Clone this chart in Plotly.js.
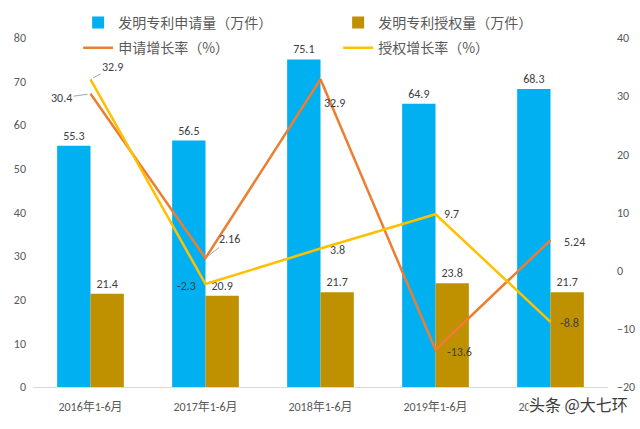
<!DOCTYPE html>
<html><head><meta charset="utf-8">
<script src="https://cdn.plot.ly/plotly-3.0.1.min.js"></script>
<style>html,body{margin:0;padding:0;background:#fff}#c{width:640px;height:429px}</style>
</head><body><div id="c"></div>
<script>
var categories = ['2016年1-6月','2017年1-6月','2018年1-6月','2019年1-6月','2020年1-6月'];
var applications = [55.3, 56.5, 75.1, 64.9, 68.3];
var grants = [21.4, 20.9, 21.7, 23.8, 21.7];
var appGrowth = [30.4, 2.16, 32.9, -13.6, 5.24];
var grantGrowth = [32.9, -2.3, 3.8, 9.7, -8.8];
var leftTicks = [0,10,20,30,40,50,60,70,80];
var rightTicks = [-20,-10,0,10,20,30,40];

var font = 'Calibri, Carlito, "Noto Sans CJK SC", sans-serif';
var cjk = '"Noto Sans CJK SC", sans-serif';
var txtColor = '#404040';

var traces = [
  {type:'bar', name:'发明专利申请量（万件）', x:categories, y:applications, marker:{color:'#00B0F0'},
   text:applications.map(function(v){return v.toFixed(1);}), textposition:'outside', cliponaxis:false,
   textfont:{size:12,color:txtColor}, legend:'legend'},
  {type:'bar', name:'发明专利授权量（万件）', x:categories, y:grants, marker:{color:'#BF9000'},
   text:grants.map(function(v){return v.toFixed(1);}), textposition:'outside', cliponaxis:false,
   textfont:{size:12,color:txtColor}, legend:'legend'},
  {type:'scatter', mode:'lines', name:'申请增长率（%）', x:categories, y:appGrowth, yaxis:'y2',
   line:{color:'#ED7D31', width:2.5}, legend:'legend2'},
  {type:'scatter', mode:'lines', name:'授权增长率（%）', x:categories, y:grantGrowth, yaxis:'y2',
   line:{color:'#FFC000', width:2.5}, legend:'legend2'}
];

// label offsets (px) for line labels: [dx, dy, leader]
var appOff = [[-29,4,true],[24,-19,true],[14,24,false],[24,2,false],[24,2,false]];
var grantOff = [[22,-12,true],[-19,2,false],[17,1,false],[16,0,false],[19,1,false]];
var annotations = [];
function addLabels(vals, offs){
  vals.forEach(function(v,i){
    var o = offs[i];
    var a = {x:categories[i], y:v, xref:'x', yref:'y2', text:String(v),
      font:{size:12,color:txtColor,family:font}};
    if(o[2]){
      a.showarrow = true; a.arrowhead = 0; a.arrowwidth = 1; a.arrowcolor = '#A6A6A6';
      a.ax = o[0]; a.ay = o[1]; a.standoff = 3;
    } else {
      a.showarrow = false; a.xshift = o[0]; a.yshift = -o[1];
    }
    annotations.push(a);
  });
}
addLabels(appGrowth, appOff);
addLabels(grantGrowth, grantOff);
annotations.push({xref:'paper', yref:'paper', x:1.037, y:-0.049, xanchor:'right', yanchor:'middle',
  text:'头条 @大七环', showarrow:false, bgcolor:'rgba(255,255,255,0.9)', borderpad:0,
  font:{size:16,color:'#3a3a3a',family:cjk}});

var layout = {
  width:640, height:429,
  margin:{l:33, r:32, t:38, b:42, autoexpand:false},
  paper_bgcolor:'#fff', plot_bgcolor:'#fff',
  font:{family:font, size:12, color:'#595959'},
  barmode:'group', bargap:0.42, bargroupgap:0,
  showlegend:true,
  legend:{orientation:'h', x:0.0785, y:1.043, xanchor:'left', yanchor:'middle', entrywidth:215,
    bgcolor:'rgba(0,0,0,0)', font:{size:14,color:'#595959',family:cjk}, traceorder:'normal'},
  legend2:{orientation:'h', x:0.0785, y:0.971, xanchor:'left', yanchor:'middle', entrywidth:215,
    bgcolor:'rgba(0,0,0,0)', font:{size:14,color:'#595959',family:cjk}, traceorder:'normal'},
  xaxis:{type:'category', showgrid:false, showline:true, linecolor:'#D9D9D9', linewidth:1,
    ticks:'', tickfont:{size:12,color:'#595959'}, ticklabelstandoff:9},
  yaxis:{range:[0,80], tickvals:leftTicks, showgrid:false, zeroline:false, showline:false,
    ticks:'', tickfont:{size:12,color:'#595959'}, ticklabelstandoff:6},
  yaxis2:{range:[-20,40], tickvals:rightTicks, overlaying:'y', side:'right', showgrid:false,
    zeroline:false, showline:false, ticks:'', tickfont:{size:12,color:'#595959'}, ticklabelstandoff:8},
  annotations:annotations
};
Plotly.newPlot('c', traces, layout, {displayModeBar:false, staticPlot:true});
</script></body></html>
